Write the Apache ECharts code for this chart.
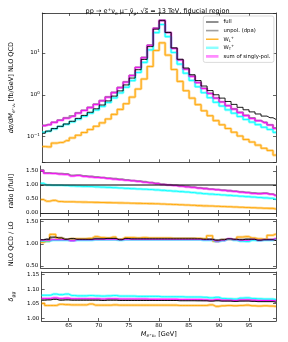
<!DOCTYPE html>
<html><head><meta charset="utf-8">
<script src="https://cdn.jsdelivr.net/npm/echarts@6/dist/echarts.min.js"></script>
<style>html,body{margin:0;padding:0;background:#fff}#c{width:288px;height:342px}</style>
</head><body><div id="c"></div>
<script>
// bin centres (GeV), 1 GeV bins
const binCenters = [60.5,61.5,62.5,63.5,64.5,65.5,66.5,67.5,68.5,69.5,70.5,71.5,72.5,73.5,74.5,75.5,76.5,77.5,78.5,79.5,80.5,81.5,82.5,83.5,84.5,85.5,86.5,87.5,88.5,89.5,90.5,91.5,92.5,93.5,94.5,95.5,96.5,97.5,98.5,99.5];
const xTicks = [65,70,75,80,85,90,95];
const ratioTicks = [0, 0.5, 1.0, 1.5];
const kTicks = [0.5, 1.0, 1.5];
const dTicks = [1.00, 1.05, 1.10, 1.15];

// main panel: dsigma/dM [fb/GeV]
const full   = [0.120,0.135,0.155,0.176,0.200,0.232,0.272,0.321,0.382,0.462,0.569,0.713,0.929,1.24,1.72,2.51,3.98,7.01,14.2,37.2,59.3,30.9,13.2,7.08,4.37,3.02,2.19,1.62,1.26,1.00,0.832,0.692,0.589,0.501,0.437,0.389,0.347,0.309,0.282,0.257];
const unpol  = [0.185,0.194,0.220,0.248,0.280,0.313,0.370,0.427,0.500,0.596,0.723,0.891,1.143,1.50,2.05,2.91,4.54,7.85,15.5,39.4,61.1,31.2,13.1,6.87,4.15,2.81,1.97,1.43,1.08,0.84,0.682,0.554,0.459,0.381,0.323,0.280,0.243,0.219,0.192,0.162];
const sumPol = [0.182,0.192,0.219,0.245,0.276,0.306,0.364,0.421,0.493,0.587,0.717,0.877,1.124,1.476,2.01,2.89,4.50,7.71,15.3,39.1,60.5,30.9,12.9,6.80,4.09,2.76,1.95,1.41,1.07,0.83,0.674,0.547,0.454,0.373,0.317,0.272,0.239,0.216,0.189,0.157];
const wT     = [0.127,0.135,0.153,0.174,0.196,0.225,0.261,0.305,0.361,0.432,0.526,0.652,0.841,1.11,1.51,2.18,3.42,5.96,11.9,30.7,48.0,24.6,10.3,5.42,3.28,2.20,1.55,1.12,0.851,0.660,0.537,0.436,0.362,0.301,0.256,0.222,0.193,0.167,0.148,0.126];
const wL     = [0.0576,0.0567,0.0698,0.0722,0.0800,0.0928,0.1074,0.125,0.147,0.176,0.213,0.264,0.339,0.446,0.611,0.879,1.37,2.38,4.76,11.5,17.5,8.9,4.03,2.09,1.25,0.831,0.580,0.413,0.315,0.240,0.191,0.156,0.127,0.103,0.0852,0.0739,0.0625,0.0525,0.0465,0.0360];

// ratio [/full]
const rFull  = [1,1,1,1,1,1,1,1,1,1,1,1,1,1,1,1,1,1,1,1,1,1,1,1,1,1,1,1,1,1,1,1,1,1,1,1,1,1,1,1];
const rUnpol = [1.54,1.44,1.42,1.41,1.40,1.35,1.36,1.33,1.31,1.29,1.27,1.25,1.23,1.21,1.19,1.16,1.14,1.12,1.09,1.06,1.03,1.01,0.99,0.97,0.95,0.93,0.90,0.88,0.86,0.84,0.82,0.80,0.78,0.76,0.74,0.72,0.70,0.71,0.68,0.63];
const rSum   = [1.52,1.42,1.41,1.39,1.38,1.32,1.34,1.31,1.29,1.27,1.26,1.23,1.21,1.19,1.17,1.15,1.13,1.10,1.08,1.05,1.02,1.00,0.98,0.96,0.935,0.915,0.89,0.87,0.85,0.83,0.81,0.79,0.77,0.745,0.725,0.70,0.69,0.70,0.67,0.61];
const rWT    = [1.06,1.00,0.99,0.99,0.98,0.97,0.96,0.95,0.945,0.935,0.925,0.915,0.905,0.895,0.88,0.87,0.86,0.85,0.84,0.825,0.81,0.795,0.78,0.765,0.75,0.73,0.71,0.69,0.675,0.66,0.645,0.63,0.615,0.60,0.585,0.57,0.555,0.54,0.525,0.49];
const rWL    = [0.48,0.42,0.45,0.41,0.40,0.40,0.395,0.39,0.385,0.38,0.375,0.37,0.365,0.36,0.355,0.35,0.345,0.34,0.335,0.33,0.32,0.31,0.305,0.295,0.285,0.275,0.265,0.255,0.25,0.24,0.23,0.225,0.215,0.205,0.195,0.19,0.18,0.17,0.165,0.14];

// NLO QCD / LO
const kFull  = [1.09,1.10,1.15,1.13,1.10,1.12,1.10,1.10,1.10,1.11,1.11,1.12,1.12,1.09,1.12,1.11,1.11,1.11,1.11,1.11,1.11,1.11,1.11,1.11,1.11,1.11,1.11,1.10,1.10,1.08,1.09,1.11,1.10,1.09,1.10,1.10,1.08,1.09,1.09,1.07];
const kUnpol = [1.09,1.11,1.14,1.14,1.11,1.11,1.11,1.11,1.11,1.12,1.12,1.12,1.12,1.10,1.12,1.12,1.12,1.12,1.12,1.12,1.12,1.12,1.12,1.12,1.12,1.12,1.11,1.11,1.11,1.09,1.10,1.11,1.10,1.10,1.11,1.11,1.09,1.10,1.10,1.09];
const kSum   = [1.08,1.08,1.09,1.09,1.09,1.07,1.09,1.09,1.09,1.10,1.10,1.10,1.10,1.09,1.10,1.10,1.10,1.10,1.10,1.10,1.10,1.10,1.10,1.10,1.10,1.10,1.10,1.09,1.09,1.06,1.08,1.11,1.09,1.08,1.08,1.10,1.08,1.09,1.09,1.12];
const kWT    = [1.06,1.06,1.08,1.08,1.08,1.07,1.08,1.08,1.08,1.09,1.09,1.09,1.09,1.08,1.09,1.09,1.09,1.09,1.09,1.09,1.09,1.09,1.09,1.09,1.09,1.09,1.09,1.08,1.08,1.05,1.07,1.10,1.08,1.06,1.05,1.08,1.07,1.08,1.08,1.11];
const kWL    = [1.03,1.06,1.21,1.13,1.10,1.11,1.11,1.11,1.12,1.16,1.14,1.13,1.15,1.10,1.14,1.14,1.13,1.14,1.13,1.13,1.13,1.13,1.12,1.12,1.12,1.12,1.12,1.11,1.18,1.06,1.09,1.10,1.09,1.15,1.16,1.13,1.11,1.10,1.19,1.22];

// delta_gg
const dFull  = [1.062,1.063,1.065,1.062,1.063,1.062,1.062,1.062,1.062,1.062,1.061,1.062,1.062,1.061,1.061,1.061,1.061,1.061,1.061,1.061,1.061,1.061,1.061,1.060,1.060,1.060,1.060,1.060,1.059,1.060,1.059,1.059,1.058,1.059,1.059,1.058,1.057,1.057,1.057,1.055];
const dUnpol = [1.064,1.065,1.066,1.065,1.065,1.064,1.064,1.064,1.064,1.064,1.063,1.064,1.064,1.063,1.063,1.063,1.063,1.063,1.063,1.062,1.062,1.062,1.062,1.062,1.062,1.062,1.061,1.061,1.060,1.061,1.060,1.060,1.059,1.060,1.061,1.060,1.059,1.059,1.059,1.057];
const dSum   = [1.068,1.068,1.070,1.068,1.069,1.067,1.067,1.067,1.067,1.067,1.066,1.067,1.067,1.066,1.066,1.066,1.066,1.066,1.065,1.065,1.065,1.065,1.065,1.064,1.064,1.064,1.064,1.063,1.062,1.064,1.062,1.062,1.061,1.063,1.063,1.062,1.061,1.061,1.061,1.060];
const dWT    = [1.079,1.079,1.083,1.081,1.083,1.078,1.077,1.077,1.078,1.077,1.076,1.077,1.078,1.076,1.076,1.076,1.075,1.075,1.075,1.075,1.074,1.074,1.074,1.074,1.073,1.073,1.073,1.072,1.070,1.072,1.068,1.067,1.066,1.069,1.070,1.068,1.067,1.066,1.066,1.064];
const dWL    = [1.051,1.044,1.044,1.048,1.047,1.046,1.046,1.046,1.049,1.045,1.045,1.045,1.046,1.045,1.045,1.045,1.045,1.045,1.045,1.045,1.045,1.045,1.045,1.044,1.044,1.044,1.044,1.044,1.046,1.041,1.043,1.044,1.043,1.044,1.045,1.043,1.042,1.043,1.042,1.041];

const FONT = 'DejaVu Sans';
const AX = '#222';
const C = {full:'#000000', unpol:'#808080', wl:'#ffa500', wt:'#00ffff', sum:'#ff00ff'};
const L = 29.3, W = 246.7;
const grids = [
  {left:L, top:13, width:W, height:149.3},
  {left:L, top:166, width:W, height:50.5},
  {left:L, top:219.5, width:W, height:48.5},
  {left:L, top:272, width:W, height:49}
];
const richSS = {
  n:{fontSize:6.5, fontFamily:FONT, lineHeight:9, color:'#000'},
  it:{fontSize:6.5, fontFamily:FONT, fontStyle:'italic', lineHeight:9, color:'#000'},
  sub:{fontSize:4.6, fontFamily:FONT, lineHeight:5, verticalAlign:'bottom', color:'#000'},
  subi:{fontSize:4.6, fontFamily:FONT, fontStyle:'italic', lineHeight:5, verticalAlign:'bottom', color:'#000'},
  sup:{fontSize:4.6, fontFamily:FONT, lineHeight:5, verticalAlign:'top', color:'#000'}
};

function pts(v){ return binCenters.map((x,i)=>[x, v[i]]); }
function ser(v, gi, color, width, opacity, z, name){
  return {type:'line', name:name, step:'middle', data:pts(v), xAxisIndex:2*gi, yAxisIndex:2*gi,
    symbol:'none', silent:true, animation:false, z:z,
    lineStyle:{color:color, width:width, opacity:opacity}, itemStyle:{color:color, opacity:opacity}};
}
const panels = [
  [full, unpol, wL, wT, sumPol],
  [rFull, rUnpol, rWL, rWT, rSum],
  [kFull, kUnpol, kWL, kWT, kSum],
  [dFull, dUnpol, dWL, dWT, dSum]
];
const series = [];
panels.forEach((p, gi) => {
  const nm = gi === 0;
  series.push(ser(p[2], gi, C.wl, 2.6, 0.45, 1));
  series.push(ser(p[3], gi, C.wt, 2.6, 0.45, 2, nm ? 'WT' : undefined));
  series.push(ser(p[4], gi, C.sum, 2.6, 0.45, 3, nm ? 'sum' : undefined));
  series.push(ser(p[1], gi, C.unpol, 1.6, 0.75, 4, nm ? 'unpol' : undefined));
  series.push(ser(p[2], gi, C.wl, 0.9, 1, 5, nm ? 'WL' : undefined));
  series.push(ser(p[3], gi, C.wt, 0.9, 1, 6));
  series.push(ser(p[4], gi, C.sum, 0.9, 1, 7));
  series.push(ser(p[0], gi, C.full, gi === 1 ? 1.2 : 0.9, 1, 8, nm ? 'full' : undefined));
});

const tickStyle = {show:true, inside:true, length:3, lineStyle:{color:AX, width:0.7}};
const lineStyle = {show:true, lineStyle:{color:AX, width:0.8}};
const xAxes = [], yAxes = [];
grids.forEach((g, gi) => {
  [0,1].forEach(side => {
    const bottomLabels = gi === 3 && side === 0;
    xAxes.push({type:'value', gridIndex:gi, min:60.5, max:99.5, position: side ? 'top' : 'bottom',
      axisLine:lineStyle, splitLine:{show:false},
      axisTick:Object.assign({customValues:xTicks}, tickStyle),
      axisLabel:{show:bottomLabels, customValues:xTicks, fontSize:5.5, fontFamily:FONT, color:'#000', margin:2},
      name: bottomLabels ? '{it|M}{subi|e⁺νₑ}{n| [GeV]}' : '', nameLocation:'middle', nameGap:8.5,
      nameTextStyle:{rich:richSS}
    });
  });
});
const yCfg = [
  {type:'log', min:0.0242, max:90.6, name:'{it|dσ/dM}{subi|e⁺νₑ}{n| [fb/GeV] NLO QCD}'},
  {type:'value', min:-0.125, max:1.679, ticks:ratioTicks, name:'ratio [/full]'},
  {type:'value', min:0.455, max:1.545, ticks:kTicks, name:'NLO QCD / LO'},
  {type:'value', min:0.9908, max:1.1586, ticks:dTicks, name:'{it|δ}{subi|gg}'}
];
yCfg.forEach((c, gi) => {
  [0,1].forEach(side => {
    const ax = {type:c.type, gridIndex:gi, min:c.min, max:c.max, position: side ? 'right' : 'left',
      axisLine:lineStyle, splitLine:{show:false}, axisTick:Object.assign({}, tickStyle),
      axisLabel:{show: side === 0, fontSize:5.5, fontFamily:FONT, color:'#000', margin:2.5},
      name: side === 0 ? c.name : '', nameLocation:'middle', nameGap:13, nameRotate:90,
      nameTextStyle: {fontSize:6.5, fontFamily:FONT, color:'#000', rich:richSS}
    };
    if (c.type === 'log') {
      ax.logBase = 10;
      ax.axisLabel.formatter = function(v){
        const e = Math.log10(v); const r = Math.round(e);
        if (Math.abs(e - r) > 1e-6) return '';
        return '{b|10}{s|' + (r < 0 ? '−' + (-r) : r) + '}';
      };
      ax.axisLabel.rich = {
        b:{fontSize:5.5, fontFamily:FONT, lineHeight:8, color:'#000'},
        s:{fontSize:4, fontFamily:FONT, lineHeight:4.5, verticalAlign:'top', color:'#000'}
      };
    } else {
      ax.axisTick.customValues = c.ticks;
      ax.axisLabel.customValues = c.ticks;
      ax.axisLabel.formatter = v => v.toFixed(2);
    }
    yAxes.push(ax);
  });
});

const legendNames = {
  full:'{n|full}', unpol:'{n|unpol. (dpa)}', WL:'{n|W}{sub|L}{sup|+}', WT:'{n|W}{sub|T}{sup|+}', sum:'{n|sum of singly-pol.}'
};
const chart = echarts.init(document.getElementById('c'), null, {renderer:'canvas'});
chart.setOption({
  animation:false,
  backgroundColor:'#fff',
  title:{
    text:'{n|pp → e}{sup|+}{n|ν}{sub|e}{n| μ}{sup|−}{n| ν̄}{sub|μ}{n|, √s̅ = 13 TeV, fiducial region}',
    left:152.6, top:2, textAlign:'center',
    textStyle:{fontSize:6.5, fontFamily:FONT, fontWeight:'normal', color:'#000', rich:richSS}
  },
  legend:{
    data:[
      {name:'full', icon:'path://M0,0H100V7H0Z'},
      {name:'unpol', icon:'path://M0,0H100V13H0Z'},
      {name:'WL', icon:'path://M0,0H100V10H0Z'},
      {name:'WT', icon:'path://M0,0H100V20H0Z'},
      {name:'sum', icon:'path://M0,0H100V22H0Z'}
    ],
    orient:'vertical', left:203.3, top:16,
    itemWidth:12.5, itemHeight:7, itemGap:1.6, padding:[2.5,3.5,2.5,2.7],
    backgroundColor:'rgba(255,255,255,0.85)', borderColor:'#cccccc', borderWidth:0.7, borderRadius:2,
    selectedMode:false,
    formatter: n => legendNames[n],
    textStyle:{fontSize:5.3, fontFamily:FONT, color:'#000', lineHeight:7,
      rich:{
        n:{fontSize:5.3, fontFamily:FONT, lineHeight:7, color:'#000'},
        sub:{fontSize:3.8, fontFamily:FONT, lineHeight:4, verticalAlign:'bottom', color:'#000'},
        sup:{fontSize:3.8, fontFamily:FONT, lineHeight:4, verticalAlign:'top', color:'#000'}
      }}
  },
  grid:grids,
  xAxis:xAxes,
  yAxis:yAxes,
  series:series
});
</script>
</body></html>
